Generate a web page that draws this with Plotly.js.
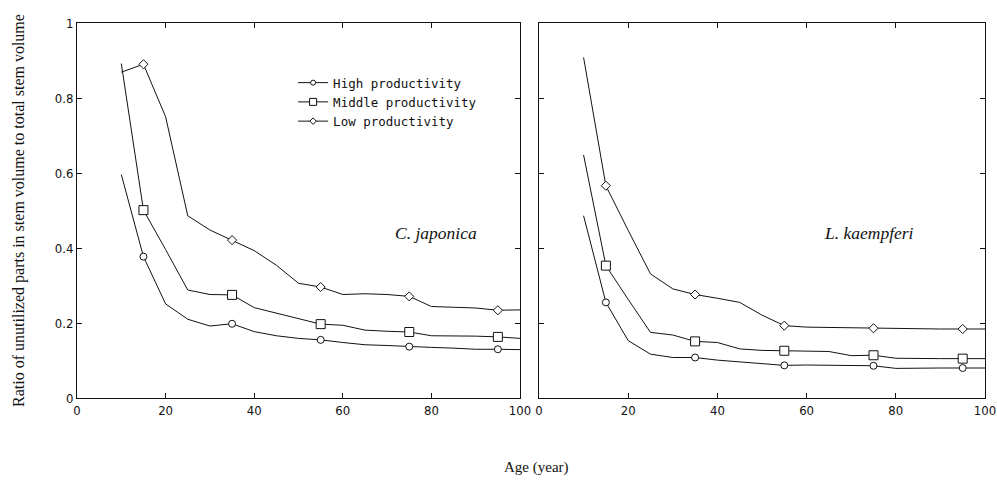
<!DOCTYPE html>
<html><head><meta charset="utf-8">
<script src="https://cdn.plot.ly/plotly-3.0.1.min.js"></script>
<style>html,body{margin:0;padding:0;background:#fff}#c{width:997px;height:481px}</style>
</head><body><div id="c"></div>
<script>
const ages = [10,15,20,25,30,35,40,45,50,55,60,65,70,75,80,85,90,95,100];
const markAges = [15,35,55,75,95];
const cjHigh   = [0.596,0.377,0.251,0.210,0.192,0.198,0.177,0.166,0.159,0.155,0.148,0.142,0.140,0.137,0.135,0.133,0.130,0.130,0.129];
const cjMiddle = [0.892,0.501,0.396,0.288,0.276,0.275,0.241,0.226,0.212,0.197,0.194,0.181,0.178,0.176,0.166,0.166,0.165,0.163,0.159];
const cjLow    = [0.869,0.890,0.750,0.486,0.448,0.421,0.393,0.354,0.306,0.296,0.276,0.278,0.276,0.271,0.244,0.242,0.240,0.234,0.235];
const lkHigh   = [0.486,0.255,0.153,0.117,0.108,0.108,0.101,0.097,0.092,0.087,0.088,0.087,0.086,0.086,0.079,0.080,0.080,0.080,0.080];
const lkMiddle = [0.648,0.353,0.263,0.175,0.168,0.151,0.148,0.131,0.127,0.126,0.125,0.124,0.113,0.114,0.106,0.105,0.105,0.105,0.105];
const lkLow    = [0.908,0.566,0.447,0.331,0.291,0.276,0.266,0.255,0.221,0.193,0.189,0.188,0.187,0.186,0.184,0.184,0.184,0.184,0.184];
const seriesNames = ['High productivity','Middle productivity','Low productivity'];
const symbols = ['circle','square','diamond'];
const sizes = [7,9,7];
const xTicks = [0,20,40,60,80,100];
const yTicks = [0,0.2,0.4,0.6,0.8,1];
const speciesLabels = ['C. japonica','L. kaempferi'];

const panels = [
  {xa:'x', ya:'y', data:[cjHigh,cjMiddle,cjLow]},
  {xa:'x2', ya:'y2', data:[lkHigh,lkMiddle,lkLow]}
];
const traces = [];
panels.forEach(p => {
  p.data.forEach((vals,i) => {
    traces.push({x:ages, y:vals, xaxis:p.xa, yaxis:p.ya, mode:'lines', showlegend:false,
      line:{color:'#111', width:1}, hoverinfo:'skip'});
    const mx = [], my = [];
    ages.forEach((a,k)=>{ if(markAges.includes(a)){ mx.push(a); my.push(vals[k]); } });
    traces.push({x:mx, y:my, xaxis:p.xa, yaxis:p.ya, mode:'markers', showlegend:false,
      marker:{symbol:symbols[i], size:sizes[i], color:'white', line:{color:'#111', width:1}}});
  });
});
seriesNames.forEach((n,i)=>{
  traces.push({x:[null], y:[null], xaxis:'x', yaxis:'y', mode:'lines+markers', name:n, showlegend:true,
    line:{color:'#111', width:1},
    marker:{symbol:symbols[i], size:sizes[i]-2, color:'white', line:{color:'#111', width:1}}});
});

const tickFont = {family:'Liberation Sans Narrow, DejaVu Sans Condensed, Arial Narrow, sans-serif', size:13, color:'#111'};
const axBase = {range:[0,100], tickvals:xTicks, ticktext:xTicks.map(String), ticks:'inside', ticklen:5, tickcolor:'#111',
  showline:true, linecolor:'#111', linewidth:1, mirror:'ticks', showgrid:false, zeroline:false, tickfont:tickFont};
const ayBase = {range:[0,1], tickvals:yTicks, ticks:'inside', ticklen:5, tickcolor:'#111',
  showline:true, linecolor:'#111', linewidth:1, mirror:'ticks', showgrid:false, zeroline:false, tickfont:tickFont};

const layout = {
  width:997, height:481,
  margin:{l:77, r:12, t:23, b:83},
  paper_bgcolor:'white', plot_bgcolor:'white',
  showlegend:true,
  legend:{x:0.238, xanchor:'left', y:0.88, yanchor:'top', bgcolor:'rgba(0,0,0,0)',
    font:{family:'DejaVu Sans Mono, monospace', size:12.5, color:'#111'}, tracegroupgap:0},
  xaxis:Object.assign({}, axBase, {domain:[0,0.4879], anchor:'y'}),
  yaxis:Object.assign({}, ayBase, {domain:[0,1], anchor:'x', ticktext:yTicks.map(String),
    title:{text:'Ratio of unutilized parts in stem volume to total stem volume',
      font:{family:'Liberation Serif, serif', size:16, color:'#111'}, standoff:26}}),
  xaxis2:Object.assign({}, axBase, {domain:[0.5088,1], anchor:'y2'}),
  yaxis2:Object.assign({}, ayBase, {domain:[0,1], anchor:'x2', showticklabels:false}),
  annotations:[
    {text:'<i>'+speciesLabels[0]+'</i>', xref:'x', yref:'y', x:81, y:0.44, showarrow:false,
      font:{family:'Liberation Serif, serif', size:17.5, color:'#111'}, xanchor:'center', yanchor:'middle'},
    {text:'<i>'+speciesLabels[1]+'</i>', xref:'x2', yref:'y2', x:74, y:0.44, showarrow:false,
      font:{family:'Liberation Serif, serif', size:17.5, color:'#111'}, xanchor:'center', yanchor:'middle'},
    {text:'Age (year)', xref:'paper', yref:'paper', x:0.5066, y:-0.184, showarrow:false,
      font:{family:'Liberation Serif, serif', size:15, color:'#111'}, xanchor:'center', yanchor:'middle'}
  ]
};

Plotly.newPlot('c', traces, layout, {staticPlot:true, displayModeBar:false});
</script></body></html>
